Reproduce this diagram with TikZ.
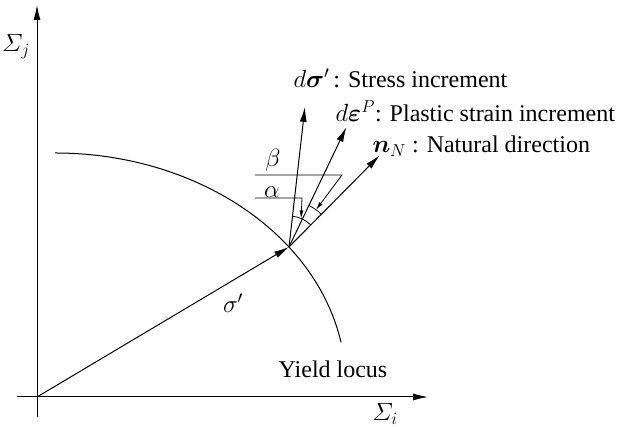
\documentclass[tikz,border=0pt]{standalone}
\usepackage{amsmath,amssymb,bm}
\usepackage{fontspec}
\setmainfont{Liberation Serif}
\usetikzlibrary{arrows.meta}

\begin{document}
\begin{tikzpicture}[x=1pt,y=1pt,line width=1pt,>={Latex[length=15pt,width=7pt]},
  lbl/.style={font=\fontsize{24}{28}\selectfont,inner sep=0pt},
  lead/.style={line width=0.8pt,-{Latex[length=8pt,width=4pt]}}]
  \useasboundingbox (0,0) rectangle (619,427);
  % axes
  \coordinate (o) at (37,30);
  \coordinate (xs) at (17,30);
  \coordinate (xe) at (428,30);
  \coordinate (ys) at (37,10);
  \coordinate (ye) at (37,422);
  \draw[->] (xs) -- (xe);
  \draw[->] (ys) -- (ye);
  \node[lbl,anchor=base] (si) at (385,6) {$\varSigma_i$};
  \node[lbl] (sj) at (16,380) {$\varSigma_j$};
  % yield locus
  \draw (55,274) arc[start angle=90,end angle=10.6,x radius=291,y radius=232];
  \node[lbl] (yl) at (333,58) {Yield locus};
  % stress point and increments
  \coordinate (P) at (289,180);
  \path (P) ++(83.5:141) coordinate (ds);
  \path (P) ++(64.4:133) coordinate (de);
  \path (P) ++(45.3:129) coordinate (nn);
  \draw[->] (o) -- (P);
  \draw[->] (P) -- (ds);
  \draw[->] (P) -- (de);
  \draw[->] (P) -- (nn);
  \node[lbl] (sg) at (233,124) {$\sigma'$};
  \node[lbl,anchor=base west] (tds) at (293,339) {$d\bm{\sigma}'$\,: Stress increment};
  \node[lbl,anchor=base west] (tde) at (335,305) {$d\bm{\varepsilon}^P$: Plastic strain increment};
  \node[lbl,anchor=base west] (tnn) at (372,274) {$\bm{n}_N$ : Natural direction};
  % angles
  \draw[line width=0.8pt] (P) ++(45.3:31) arc[start angle=45.3,end angle=83.5,radius=31];
  \draw[line width=0.8pt] (P) ++(45.3:46) arc[start angle=45.3,end angle=64.4,radius=46];
  \path (P) ++(54:46) coordinate (bt);
  \path (P) ++(67:31) coordinate (at);
  \coordinate (b1) at (255,252);
  \coordinate (b2) at (342,252);
  \coordinate (a1) at (255,229);
  \coordinate (a2) at (302,229);
  \draw[lead] (b1) -- (b2) -- (bt);
  \draw[lead] (a1) -- (a2) -- (at);
  \node[lbl] (lb) at (273,267) {$\beta$};
  \node[lbl] (la) at (272,235) {$\alpha$};
\end{tikzpicture}
\end{document}
